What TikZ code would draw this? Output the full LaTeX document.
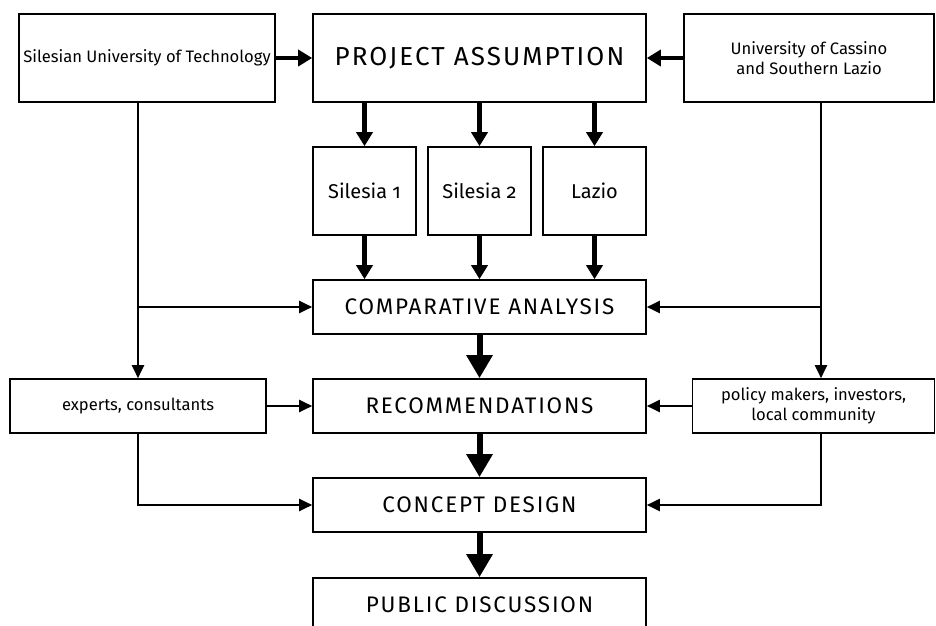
\documentclass[tikz,border=0pt]{standalone}
\usepackage{fontspec}
\setmainfont{Fira Sans}[Numbers=OldStyle]
\usetikzlibrary{positioning}
\usetikzlibrary{arrows.meta,calc}

\newcommand{\capsfont}[1]{\fontsize{#1}{#1}\selectfont\addfontfeatures{LetterSpace=8}}

\begin{document}
\begin{tikzpicture}[x=0.25mm,y=-0.25mm,
        box/.style={draw, line width=0.4mm, inner sep=0pt, align=center},
        tallbox/.style={box, minimum height=22mm},
        flatbox/.style={box, minimum height=13.5mm},
        stage/.style={flatbox, minimum width=83.25mm, font=\capsfont{16}},
        region/.style={tallbox, minimum width=25.75mm, font=\fontsize{14.2}{17}\selectfont},
        party/.style={font=\fontsize{11.8}{14.5}\selectfont},
        link/.style={line width=0.5mm, -{Triangle[length=3.25mm,width=3mm]}},
        flow/.style={line width=1.1mm, -{Triangle[length=3.5mm,width=4mm]}},
        mainflow/.style={line width=1.5mm, -{Triangle[length=5.75mm,width=6.25mm]}},
    ]
    \path[use as bounding box, clip] (0,0) rectangle (936,626);

    % top row
    \node[tallbox, party, minimum width=64mm] (sut) at (147,58) {Silesian University of Technology};
    \node[tallbox, minimum width=83.25mm, font=\capsfont{18.5}] (pa) at (479.5,58) {PROJECT ASSUMPTION};
    \node[tallbox, party, minimum width=62.5mm] (ucas) at (809,58) {University of Cassino\\and Southern Lazio};

    % case studies
    \node[region] (s1) at (364.5,191) {Silesia 1};
    \node[region] (s2) at (479.5,191) {Silesia 2};
    \node[region] (lz) at (594.5,191) {Lazio};

    % main column
    \node[stage] (ca) at (479.5,307) {COMPARATIVE ANALYSIS};
    \node[stage] (rec) at (479.5,406) {RECOMMENDATIONS};
    \node[stage] (cd) at (479.5,505) {CONCEPT DESIGN};
    \node[stage] (pd) at (479.5,605) {PUBLIC DISCUSSION};

    % side boxes
    \node[flatbox, party, minimum width=64mm] (exp) at (138,406) {experts, consultants};
    \node[flatbox, party, minimum width=60.5mm] (pol) at (813.5,406) {policy makers, investors,\\local community};
    \coordinate (rbus) at (821,0);

    \draw[flow] (sut) -- (pa);
    \draw[flow] (ucas) -- (pa);
    \foreach \s in {s1,s2,lz}
    {
        \draw[flow] (pa.south -| \s) -- (\s);
        \draw[flow] (\s) -- (ca.north -| \s);
    }

    % left branch
    \draw[link] (sut.south -| exp) -- (exp);
    \draw[link] (ca.west -| exp) -- (ca);
    \draw[link] (exp) -- (rec);
    \draw[link] (exp) |- (cd);

    % right branch
    \draw[link] (ucas.south -| rbus) -- (pol.north -| rbus);
    \draw[link] (ca.east -| rbus) -- (ca);
    \draw[link] (pol) -- (rec);
    \draw[link] (pol.south -| rbus) |- (cd);

    \draw[mainflow] (ca) -- (rec);
    \draw[mainflow] (rec) -- (cd);
    \draw[mainflow] (cd) -- (pd);
\end{tikzpicture}
\end{document}
